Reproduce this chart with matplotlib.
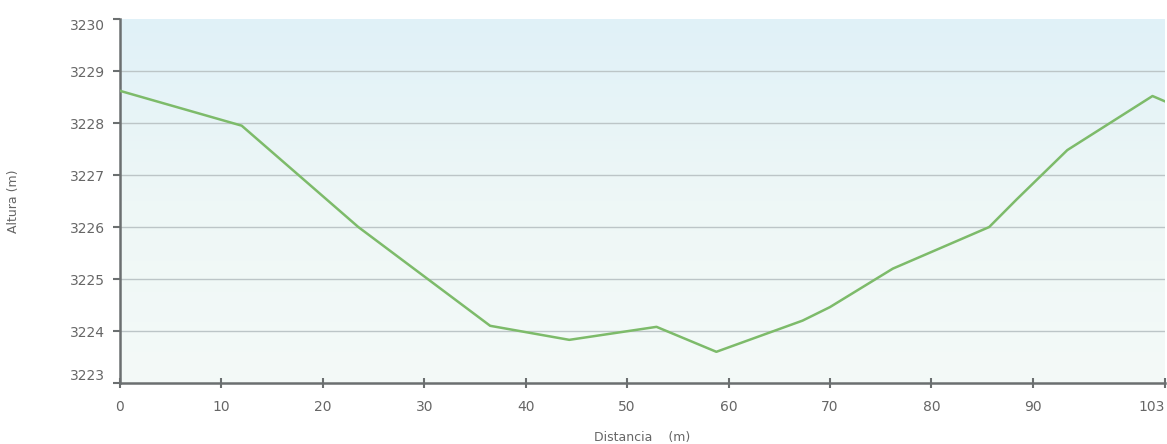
import numpy as np
import matplotlib
matplotlib.use('Agg')
import matplotlib.pyplot as plt
from matplotlib.colors import LinearSegmentedColormap

# Perfil del terreno
distancia = [0, 12.0, 23.5, 36.5, 44.3, 52.9, 58.8, 67.3, 70.0, 76.2, 85.7, 88.4, 93.4, 101.8, 103]
altura = [3228.62, 3227.95, 3226.0, 3224.1, 3223.83, 3224.08, 3223.6, 3224.2, 3224.46,
          3225.2, 3226.0, 3226.53, 3227.48, 3228.52, 3228.42]

xticks = [0, 10, 20, 30, 40, 50, 60, 70, 80, 90, 103]
yticks = [3223, 3224, 3225, 3226, 3227, 3228, 3229, 3230]

fig = plt.figure(figsize=(11.67, 4.44), dpi=100)
ax = fig.add_axes([0.1028, 0.1374, 0.8952, 0.8196])

# fondo degradado
cmap = LinearSegmentedColormap.from_list('fondo', ['#f4faf8', '#eef7f6', '#e0f1f8'])
grad = np.linspace(0, 1, 256).reshape(-1, 1)
ax.imshow(grad, extent=[0, 1, 0, 1], transform=ax.transAxes, aspect='auto',
          cmap=cmap, origin='lower', zorder=0)

ax.plot(distancia, altura, color='#7dbb6a', lw=1.8, zorder=3)

ax.set_xlim(0, 103)
ax.set_ylim(3223, 3230)
ax.set_xticks(xticks)
ax.set_yticks(yticks)

ax.yaxis.grid(True, color='#bcc5c7', lw=1)
for i, gl in enumerate(ax.get_ygridlines()):
    if i == 0 or i == len(yticks) - 1:
        gl.set_visible(False)

for s in ['top', 'right']:
    ax.spines[s].set_visible(False)
for s in ['left', 'bottom']:
    ax.spines[s].set_color('#6b6f70')
    ax.spines[s].set_linewidth(1.8)

ax.tick_params(axis='y', direction='out', length=5, width=1.5, color='#6b6f70',
               labelsize=10, labelcolor='#666666', pad=6)
ax.tick_params(axis='x', direction='inout', length=7, width=1.5, color='#6b6f70',
               labelsize=10, labelcolor='#666666', pad=9)

# etiquetas extremas desplazadas hacia dentro
ylabels = ax.get_yticklabels()
ylabels[0].set_va('bottom')
ylabels[-1].set_va('top')
xlabels = ax.get_xticklabels()
xlabels[-1].set_ha('right')

ax.set_xlabel('Distancia    (m)', fontsize=9, color='#666666', labelpad=12)
ax.set_ylabel('Altura (m)', fontsize=9, color='#666666', labelpad=36)

fig.savefig('out.png', dpi=100, facecolor='white')
